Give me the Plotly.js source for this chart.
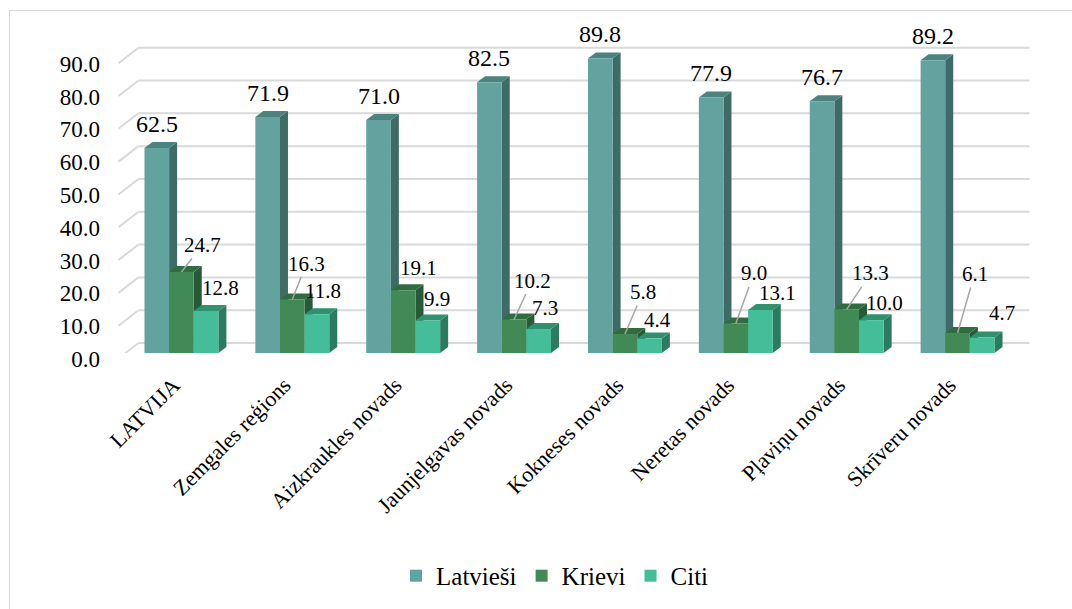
<!DOCTYPE html>
<html><head><meta charset="utf-8">
<script src="https://cdn.plot.ly/plotly-3.0.1.min.js"></script>
<style>
body{margin:0;background:#fff}
#frame{position:absolute;left:9px;top:10px;width:1063px;height:599px;border-left:1px solid #d9d9d9;border-top:1px solid #d9d9d9;pointer-events:none}
</style>
</head><body>
<div id="chart" style="width:1072px;height:609px"></div>
<div id="frame"></div>
<script>
// ---- data ----
const categories = ['LATVIJA','Zemgales reģions','Aizkraukles novads','Jaunjelgavas novads','Kokneses novads','Neretas novads','Pļaviņu novads','Skrīveru novads'];
const latviesi = [62.5, 71.9, 71.0, 82.5, 89.8, 77.9, 76.7, 89.2];
const krievi   = [24.7, 16.3, 19.1, 10.2, 5.8, 9.0, 13.3, 6.1];
const citi     = [12.8, 11.8, 9.9, 7.3, 4.4, 13.1, 10.0, 4.7];
const seriesNames = ['Latvieši','Krievi','Citi'];
const yTicks = [0,10,20,30,40,50,60,70,80,90];

// ---- style ----
const FONT = 'Liberation Serif';
const front = ['#62a39f','#418a55','#43be98'];
const side  = ['#3f6b67','#285a37','#2a7b5f'];
const top_  = ['#4c837f','#2f6c40','#30916f'];
const krieviOff = [[21,-27],[14,-36],[15,-22],[18,-39],[18,-42],[18,-50],[24,-36],[17,-59]];
const citiOff   = [[14,-23],[6,-23],[9,-22],[6,-21],[8,-19],[17,-17],[13,-17],[20,-25]];

const idx = categories.map((_, i) => i);
const all = [latviesi, krievi, citi];
const bargap = 1/3;
const w = (1 - bargap) / 3;
const plotW = 888;
const pxPerUnit = 3.3;
const yMax = 96;
const DX = 8 / (plotW / 8);   // depth in x units
const DY = 6 / pxPerUnit;     // depth in y units

const traces = all.map((vals, k) => ({
  type: 'bar', name: seriesNames[k], x: idx, y: vals,
  marker: {color: front[k], line: {width: 0}},
  hoverinfo: 'y'
}));

const shapes = [];
const PX = 1 / plotW;
yTicks.forEach(t => {
  shapes.push({type:'line', layer:'below', xref:'paper', yref:'y', ysizemode:'pixel', yanchor:t,
    x0: 12.5*PX, x1: 904.5*PX, y0: 10, y1: 10, line:{color:'#d9d9d9', width:2}});
  shapes.push({type:'line', layer:'below', xref:'paper', yref:'y', ysizemode:'pixel', yanchor:t,
    x0: -7.5*PX, x1: 12.5*PX, y0: -5.5, y1: 10, line:{color:'#d9d9d9', width:2}});
});
idx.forEach(i => {
  all.forEach((vals, k) => {
    const v = vals[i];
    const xc = i + (k - 1) * w, xl = xc - w/2, xr = xc + w/2;
    shapes.push({type:'path', layer:'between', xref:'x', yref:'y', line:{width:0}, fillcolor: side[k],
      path:`M${xr},0 L${xr},${v} L${xr+DX},${v+DY} L${xr+DX},${DY} Z`});
    shapes.push({type:'path', layer:'between', xref:'x', yref:'y', line:{width:0}, fillcolor: top_[k],
      path:`M${xl},${v} L${xr},${v} L${xr+DX},${v+DY} L${xl+DX},${v+DY} Z`});
  });
});

const annotations = [];
idx.forEach(i => {
  annotations.push({x: i - w, y: latviesi[i], text: latviesi[i].toFixed(1), showarrow:false,
    yshift: 24, font:{family:FONT, size:24, color:'#000'}});
  const [ax, ay] = krieviOff[i];
  const longLine = Math.hypot(ax, ay) > 30;
  annotations.push({x: i, y: krievi[i], text: krievi[i].toFixed(1),
    showarrow: longLine, arrowhead:0, arrowwidth:1.5, arrowcolor:'#a6a6a6', standoff:0,
    ax: ax, ay: ay, xshift: longLine ? 0 : ax, yshift: longLine ? 0 : -ay,
    font:{family:FONT, size:21, color:'#000'}});
  const [cx, cy] = citiOff[i];
  annotations.push({x: i + w, y: citi[i], text: citi[i].toFixed(1), showarrow:false,
    xshift: cx, yshift: -cy, font:{family:FONT, size:21, color:'#000'}});
});

const bottomPx = 254.5;
const plotH = yMax * pxPerUnit;
const layout = {
  width: 1072, height: 609,
  margin: {l:125.5, r:58.5, t:609 - bottomPx - plotH, b:bottomPx, pad:0},
  paper_bgcolor:'#fff', plot_bgcolor:'rgba(0,0,0,0)',
  barmode:'group', bargap: bargap, bargroupgap: 0,
  font:{family:FONT, color:'#000'},
  xaxis:{type:'linear', range:[-0.5, 7.5], tickvals: idx, ticktext: categories, tickangle:-45,
    showgrid:false, zeroline:false, showline:false, ticks:'', tickfont:{family:FONT, size:22, color:'#000'},
    ticklabelstandoff: 14, ticklabelshift: -8},
  yaxis:{range:[0,yMax], tickvals:yTicks, tickformat:'.1f', showgrid:false, zeroline:false, showline:false,
    ticks:'', tickfont:{family:FONT, size:23, color:'#000'}, ticklabelstandoff: 25, ticklabelshift: 6},
  showlegend:true,
  legend:{orientation:'h', x:(555-125.5)/plotW, xanchor:'center', y:-(577-354.5)/plotH, yanchor:'middle',
    font:{family:FONT, size:25, color:'#000'}, itemwidth:30, tracegroupgap:0},
  shapes: shapes, annotations: annotations
};
Plotly.newPlot('chart', traces, layout, {displayModeBar:false, staticPlot:true});
</script>
</body></html>
